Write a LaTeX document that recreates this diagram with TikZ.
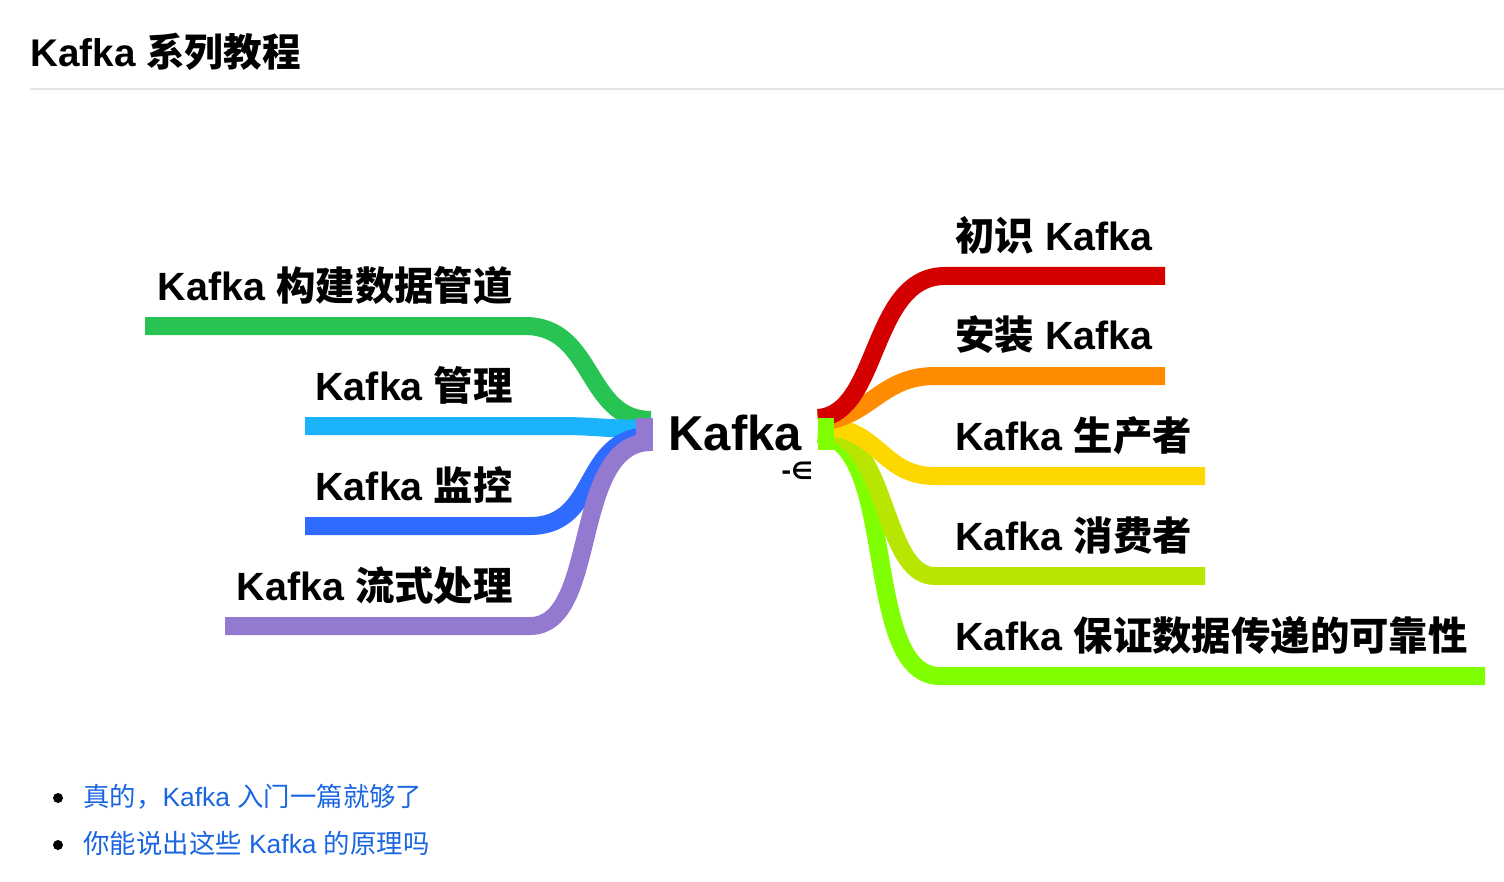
\documentclass[tikz,border=0pt]{standalone}
\usepackage{fontspec}
\setmainfont{Liberation Sans}
\newfontfamily\cjk{Noto Sans CJK SC}
\newfontfamily\dv{DejaVu Sans}
\usetikzlibrary{calc}
\definecolor{cRed}{HTML}{D40000}
\definecolor{cOrange}{HTML}{FF8C00}
\definecolor{cYellow}{HTML}{FFD700}
\definecolor{cYG}{HTML}{B8E600}
\definecolor{cLime}{HTML}{80FF00}
\definecolor{cGreen}{HTML}{28C453}
\definecolor{cCyan}{HTML}{1BB3FB}
\definecolor{cBlue}{HTML}{2F6BFF}
\definecolor{cPurple}{HTML}{9479D0}
\definecolor{cLink}{HTML}{1A66E0}
\tikzset{
 band/.style={line width=9pt},
 lbl/.style={font=\bfseries\fontsize{19.7}{22}\selectfont, inner sep=0pt},
 lnk/.style={font=\fontsize{13.2}{15}\selectfont, text=cLink, inner sep=0pt, anchor=base west},
}
\begin{document}
\begin{tikzpicture}[x=0.5pt,y=-0.5pt]
\useasboundingbox (0,0) rectangle (1504,882);
\node[anchor=base west, inner sep=0pt, font=\bfseries\fontsize{19.3}{22}\selectfont] (title) at (30,67) {Kafka {\cjk\bfseries 系列教程}};
\draw[draw=black!10, line width=0.6pt] (30,89) -- (1504,89);
% center
\node[anchor=base west, inner sep=0pt, font=\bfseries\fontsize{24.5}{28}\selectfont] (center) at (668,450) {Kafka};
\node[anchor=base west, inner sep=0pt, font=\dv\bfseries\fontsize{12}{14}\selectfont] (icon) at (781,479) {-∈};
\coordinate (cl) at (651,434);
\coordinate (cr) at (818,434);
% left branches
\coordinate (g1) at (145,326); \coordinate (g2) at (525,326);
\coordinate (c1) at (305,426);
\coordinate (b1) at (305,526); \coordinate (b2) at (530,526);
\coordinate (p1) at (225,626); \coordinate (p2) at (530,626);
\draw[band,cGreen] (g1) -- (g2) .. controls (595,326) and (585,420) .. ($(cl)+(0,-14)$);
\draw[band,cCyan] (c1) -- (560,426) .. controls (600,426) and (610,430) .. ($(cl)+(0,-6)$);
\draw[band,cBlue] (b1) -- (b2) .. controls (600,526) and (580,436) .. ($(cl)+(0,2)$);
\draw[band,cPurple] (p1) -- (p2) .. controls (600,626) and (570,442) .. ($(cl)+(0,8)$);
\fill[cPurple] (636,418) rectangle (653,451);
\node[lbl, anchor=base east] (l1) at (513,300) {Kafka {\cjk\bfseries 构建数据管道}};
\node[lbl, anchor=base east] (l2) at (513,400) {Kafka {\cjk\bfseries 管理}};
\node[lbl, anchor=base east] (l3) at (513,500) {Kafka {\cjk\bfseries 监控}};
\node[lbl, anchor=base east] (l4) at (513,600) {Kafka {\cjk\bfseries 流式处理}};
% right branches
\draw[band,cLime] ($(cr)+(0,0)$) .. controls (900,440) and (860,676) .. (940,676) -- (1485,676);
\draw[band,cYG] ($(cr)+(0,-4)$) .. controls (890,430) and (880,576) .. (935,576) -- (1205,576);
\draw[band,cYellow] ($(cr)+(0,-8)$) .. controls (880,426) and (880,476) .. (935,476) -- (1205,476);
\draw[band,cOrange] ($(cr)+(0,-12)$) .. controls (870,418) and (880,376) .. (935,376) -- (1165,376);
\draw[band,cRed] ($(cr)+(0,-16)$) .. controls (880,414) and (870,276) .. (945,276) -- (1165,276);
\fill[cLime] (818,418) rectangle (834,450);
\node[lbl, anchor=base west] (r1) at (955,250) {{\cjk\bfseries 初识} Kafka};
\node[lbl, anchor=base west] (r2) at (955,350) {{\cjk\bfseries 安装} Kafka};
\node[lbl, anchor=base west] (r3) at (955,450) {Kafka {\cjk\bfseries 生产者}};
\node[lbl, anchor=base west] (r4) at (955,550) {Kafka {\cjk\bfseries 消费者}};
\node[lbl, anchor=base west] (r5) at (955,650) {Kafka {\cjk\bfseries 保证数据传递的可靠性}};
% links
\fill (58,798) circle (5);
\fill (58,845) circle (5);
\node[lnk] (k1) at (83,806) {{\cjk 真的，}Kafka {\cjk 入门一篇就够了}};
\node[lnk] (k2) at (83,853) {{\cjk 你能说出这些} Kafka {\cjk 的原理吗}};
\end{tikzpicture}
\end{document}
